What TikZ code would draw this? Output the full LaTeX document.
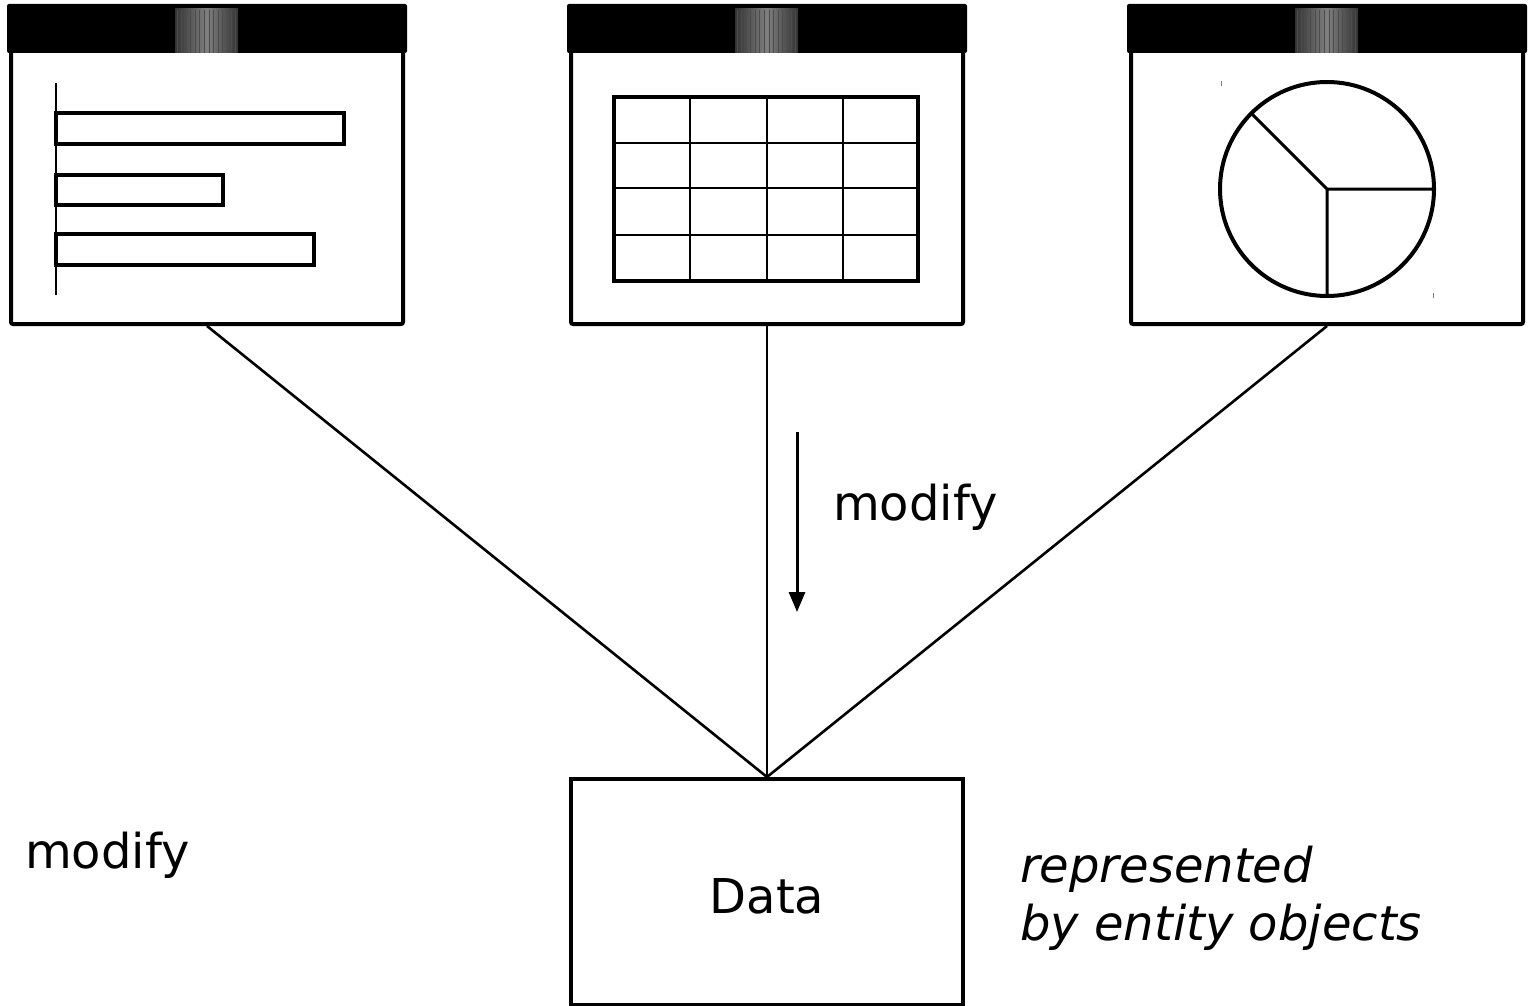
\documentclass[tikz,border=0pt]{standalone}
\usepackage{fontspec}
\setmainfont{DejaVu Sans}
\usetikzlibrary{arrows.meta,calc}
\begin{document}
\begin{tikzpicture}[x=1pt,y=-1pt,
  win/.style={draw,line width=4,fill=white,rounded corners=2,minimum width=392,minimum height=316,inner sep=0},
  databox/.style={draw,line width=4,fill=white,minimum width=392,minimum height=226,inner sep=0,text height=43pt,font=\fontsize{48}{58}\selectfont},
  lbl/.style={inner sep=0,anchor=base west,font=\fontsize{48}{58}\selectfont},
  conn/.style={line width=2.6},
  thick4/.style={line width=4}
]
\useasboundingbox (0,0) rectangle (1531,1006);
% windows
\foreach \n/\cx in {w1/207,w2/767,w3/1327}{
  \node[win] (\n) at (\cx,166) {};
  \fill[rounded corners=2] ($(\n.north west)+(-2,-2)$) rectangle ($(\n.north east)+(2,47)$);
  \shade[left color=black!80,right color=black!80,middle color=black!50]
    ($(\n.north)+(-32,3)$) rectangle ($(\n.north)+(31,47)$);
  \foreach \dx in {-30,-26,-21,-17,-12,-8,-3,2,6,11,15,20,24,28}
    \draw[black!70,line width=0.6] ($(\n.north)+(\dx,4)$) -- ($(\n.north)+(\dx,47)$);
}
% bar chart
\draw[line width=2] (56,83) -- (56,295);
\draw[thick4] (56,113) rectangle (344,144);
\draw[thick4] (56,175) rectangle (223,205);
\draw[thick4] (56,234) rectangle (314,265);
% table
\draw[line width=1.6] (690,97) -- (690,281) (767,97) -- (767,281) (843,97) -- (843,281)
  (614,143) -- (918,143) (614,188) -- (918,188) (614,235) -- (918,235);
\draw[thick4] (614,97) rectangle (918,281);
% pie
\draw[thick4] (1327,189) circle (107);
\draw[line width=3] (1327,189) -- (1434,189) (1327,189) -- (1327,296) (1327,189) -- ++(-135:107);
\draw[black!50,line width=1] (1221,81) -- (1221,86) (1433,293) -- (1433,298);
% data
\node[databox] (data) at (767,892) {Data};
\draw[conn] (w1.south) -- (data.north);
\draw[conn] (w2.south) -- (data.north);
\draw[conn] (w3.south) -- (data.north);
% arrow
\coordinate (a1) at (797,432);
\coordinate (a2) at (797,612);
\draw[line width=3,-{Triangle[width=16,length=20]}] (a1) -- (a2);
\node[lbl] (m1) at (833,520) {modify};
\node[lbl] (m2) at (25,868) {modify};
\node[lbl,font=\fontsize{48}{58}\selectfont\itshape] (r1) at (1020,882) {represented};
\node[lbl,font=\fontsize{48}{58}\selectfont\itshape] (r2) at (1020,940) {by entity objects};
\end{tikzpicture}
\end{document}
